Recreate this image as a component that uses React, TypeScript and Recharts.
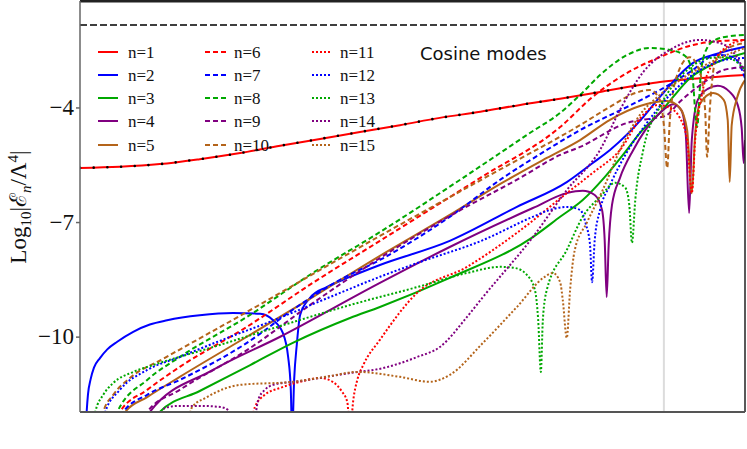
import React from 'react';
import { LineChart, Line, XAxis, YAxis, ReferenceLine } from 'recharts';

type P = [number, number];

// Log10|E_n / Lambda^4| versus the (unlabelled) horizontal variable, 0..10
const n1: P[] = [[0,-5.57],[0.6,-5.54],[1.2,-5.47],[1.8,-5.34],[2.41,-5.18],[3.01,-4.99],[3.61,-4.81],[4.21,-4.63],[4.81,-4.45],[5.41,-4.26],[6.02,-4.1],[6.62,-3.92],[7.22,-3.76],[7.82,-3.58],[8.42,-3.4],[8.72,-3.32],[9.32,-3.22],[10,-3.14]];
const n1Approx: P[] = [[0,-5.57],[0.6,-5.54],[1.2,-5.47],[1.8,-5.34],[2.41,-5.18],[3.01,-4.99],[3.61,-4.81],[4.21,-4.63],[4.81,-4.45],[5.41,-4.26],[6.02,-4.1],[6.62,-3.92],[7.22,-3.76],[7.82,-3.58],[8.42,-3.4],[8.68,-3.33]];
const n2: P[] = [[0.08,-12.6],[0.1,-11.96],[0.12,-11.5],[0.16,-11.1],[0.21,-10.8],[0.3,-10.55],[0.41,-10.32],[0.56,-10.12],[0.8,-9.86],[1.05,-9.67],[1.31,-9.56],[1.8,-9.43],[2.3,-9.37],[2.71,-9.39],[2.9,-9.55],[3.05,-9.89],[3.13,-10.52],[3.17,-11.38],[3.19,-12.6],[3.22,-11.12],[3.26,-10.2],[3.31,-9.42],[3.46,-8.97],[3.71,-8.69],[4.02,-8.45],[4.51,-8.11],[5.56,-7.48],[6.57,-6.59],[7.32,-5.94],[7.71,-5.44],[7.97,-5.1],[8.47,-4.24],[8.72,-3.71],[9.22,-2.82],[9.62,-2.56],[10,-2.4]];
const n3: P[] = [[1.17,-12.5],[1.2,-11.96],[1.8,-11.41],[2.56,-10.73],[3.2,-10.15],[4.06,-9.5],[4.51,-9.21],[5.56,-8.45],[6.81,-7.38],[7.22,-6.85],[7.56,-6.41],[7.89,-5.81],[8.2,-5.15],[8.42,-4.65],[8.72,-4.13],[8.92,-3.71],[9.17,-3.22],[9.43,-2.93],[9.7,-2.72],[10,-2.56]];
const n4: P[] = [[1.02,-12.5],[1.05,-11.96],[2.0,-10.86],[3.01,-9.99],[4.51,-8.58],[5.56,-7.64],[6.81,-6.62],[7.32,-6.23],[7.56,-6.17],[7.74,-6.28],[7.85,-6.67],[7.89,-7.46],[7.92,-8.95],[7.95,-7.59],[8.0,-6.54],[8.12,-5.83],[8.32,-5.1],[8.5,-4.58],[8.72,-4.13],[8.92,-3.9],[9.04,-4.05],[9.11,-4.71],[9.16,-6.75],[9.2,-4.84],[9.29,-3.79],[9.44,-3.5],[9.59,-3.42],[9.77,-3.58],[9.89,-3.92],[9.95,-4.52],[9.98,-5.44],[10,-4.84]];
const n5: P[] = [[0.65,-12.5],[0.68,-11.96],[1.01,-11.57],[1.5,-11.04],[2.51,-9.99],[3.5,-8.95],[4.51,-7.87],[5.56,-6.8],[6.32,-5.99],[7.02,-5.31],[7.52,-4.84],[7.97,-4.31],[8.42,-3.95],[8.83,-3.82],[9.02,-4.0],[9.13,-4.58],[9.2,-6.23],[9.25,-4.71],[9.32,-3.9],[9.52,-3.61],[9.68,-3.79],[9.74,-4.31],[9.77,-5.94],[9.8,-4.45],[9.88,-3.74],[10,-3.27]];
const n6: P[] = [[0.57,-12.5],[0.6,-11.96],[1.01,-11.38],[1.5,-10.78],[2.51,-9.73],[3.5,-8.58],[4.51,-7.48],[6.02,-5.83],[7.22,-4.5],[7.71,-3.71],[8.23,-3.08],[8.72,-2.67],[9.22,-2.35],[9.62,-2.25],[10,-2.22]];
const n7: P[] = [[0.62,-12.5],[0.65,-11.96],[1.01,-11.51],[1.5,-11.12],[2.51,-10.15],[3.26,-9.21],[3.91,-8.5],[4.51,-7.98],[5.56,-6.85],[6.36,-5.83],[7.02,-5.1],[7.52,-4.58],[8.23,-3.97],[8.72,-3.53],[9.17,-3.06],[9.58,-2.61],[9.82,-2.67],[9.92,-2.87],[10,-3.22]];
const n8: P[] = [[0.53,-12.5],[0.56,-11.96],[1.01,-11.12],[1.5,-10.52],[2.51,-9.47],[3.5,-8.32],[4.51,-7.25],[5.76,-5.83],[6.77,-4.65],[7.22,-4.13],[7.52,-3.66],[7.82,-3.14],[8.23,-2.61],[8.57,-2.43],[8.87,-2.48],[9.1,-2.64],[9.2,-3.01],[9.28,-4.5],[9.34,-3.01],[9.43,-2.43],[9.55,-2.22],[9.77,-2.12],[10,-2.09]];
const n9: P[] = [[0.98,-12.5],[1.01,-11.96],[1.5,-11.38],[2.51,-10.34],[3.5,-9.11],[4.51,-7.93],[5.56,-6.83],[6.62,-5.83],[7.22,-5.23],[7.52,-5.02],[8.23,-4.39],[8.65,-4.26],[8.8,-4.21],[9.02,-3.84],[9.43,-3.27],[9.67,-3.01],[10,-2.93]];
const n10: P[] = [[0.32,-12.5],[0.35,-11.96],[0.5,-11.51],[0.75,-11.07],[1.25,-10.57],[2.51,-9.34],[3.5,-8.35],[4.51,-7.35],[6.17,-5.75],[7.52,-4.45],[7.97,-3.97],[8.35,-3.61],[8.57,-3.53],[8.72,-3.79],[8.78,-4.45],[8.83,-5.57],[8.87,-4.31],[8.98,-3.14],[9.17,-2.67],[9.32,-3.06],[9.4,-4.05],[9.43,-5.28],[9.47,-4.05],[9.55,-2.8],[9.7,-2.48],[10,-2.3]];
const n11: P[] = [[2.56,-12.5],[2.63,-11.83],[2.78,-11.51],[3.01,-11.33],[3.31,-11.17],[3.61,-11.07],[3.8,-11.17],[3.94,-11.43],[4.02,-11.7],[4.06,-12.5],[4.11,-11.64],[4.17,-11.12],[4.26,-10.73],[4.51,-10.07],[5.07,-8.84],[5.82,-8.16],[6.57,-7.27],[7.32,-6.23],[7.71,-5.7],[8.12,-5.1],[8.47,-4.18],[8.69,-3.92],[8.87,-4.0],[9.02,-4.26],[9.13,-4.84],[9.2,-6.23],[9.25,-4.84],[9.35,-3.66],[9.55,-2.74],[9.77,-2.35],[10,-2.22]];
const n12: P[] = [[0.35,-12.5],[0.38,-11.96],[0.6,-11.38],[1.01,-10.86],[1.5,-10.52],[2.26,-9.99],[2.81,-9.63],[3.76,-8.95],[4.51,-8.42],[5.07,-8.06],[6.06,-7.46],[6.81,-6.85],[7.07,-6.67],[7.32,-6.59],[7.52,-6.67],[7.61,-7.06],[7.67,-7.59],[7.7,-8.56],[7.74,-7.46],[7.82,-6.67],[7.97,-6.02],[8.2,-5.23],[8.5,-4.45],[8.87,-3.66],[9.32,-3.01],[9.7,-2.74],[10,-2.69]];
const n13: P[] = [[0.2,-12.5],[0.23,-11.96],[0.35,-11.51],[0.5,-11.2],[0.8,-10.91],[1.1,-10.73],[2.0,-10.26],[3.01,-9.71],[4.06,-9.16],[5.07,-8.69],[5.82,-8.32],[6.32,-8.16],[6.54,-8.19],[6.72,-8.37],[6.84,-8.76],[6.89,-9.55],[6.93,-10.91],[6.96,-9.55],[7.02,-8.76],[7.32,-7.72],[7.56,-6.85],[7.82,-6.33],[8.05,-5.96],[8.2,-6.09],[8.26,-6.54],[8.3,-7.53],[8.35,-6.41],[8.47,-5.1],[8.72,-3.97],[8.92,-3.4],[9.17,-2.95],[9.47,-2.69],[9.7,-2.67],[9.88,-2.8],[10,-3.01]];
const n14: P[] = [[1.17,-12.5],[1.28,-11.85],[1.5,-11.8],[1.8,-11.8],[2.11,-11.83],[2.23,-11.91],[2.29,-12.5],[2.59,-12.5],[2.68,-11.64],[2.78,-11.38],[2.9,-11.25],[3.31,-11.15],[4.06,-10.94],[4.56,-10.81],[5.07,-10.52],[5.41,-10.26],[5.82,-9.47],[6.06,-8.95],[6.81,-7.38],[7.32,-6.15],[7.82,-5.1],[8.12,-4.05],[8.47,-3.06],[8.87,-2.48],[9.32,-2.22],[9.62,-2.3],[9.82,-2.53],[9.92,-2.8],[10,-3.08]];
const n15: P[] = [[1.62,-12.5],[1.68,-11.85],[1.91,-11.57],[2.41,-11.25],[3.2,-11.17],[3.76,-11.02],[4.17,-10.91],[4.81,-11.04],[5.26,-11.17],[5.56,-10.99],[6.06,-10.15],[6.57,-9.21],[6.99,-8.42],[7.11,-8.32],[7.22,-8.56],[7.26,-9.03],[7.32,-10.02],[7.37,-8.76],[7.44,-7.72],[7.62,-7.01],[7.86,-6.15],[8.12,-5.1],[8.42,-4.18],[8.72,-3.66],[9.14,-3.14],[9.62,-2.69],[10,-2.43]];

const seriesNames = ['n=1','n=2','n=3','n=4','n=5','n=6','n=7','n=8','n=9','n=10','n=11','n=12','n=13','n=14','n=15'];
const seriesValues: P[][] = [n1,n2,n3,n4,n5,n6,n7,n8,n9,n10,n11,n12,n13,n14,n15];
const yTicks = [-4, -7, -10];
const boundaryX = 8.78;
const upperBound = -1.83;

const COLORS = ['#ff0000', '#0000ff', '#00a800', '#800080', '#b4641a'];
const DASHES: (string | undefined)[] = [undefined, '5 3', '2 2'];

const toRows = (pts: P[]) => pts.map(([x, y]) => ({ x, y }));

const SERIF = 'Liberation Serif, DejaVu Serif, serif';

const YTick = (props: any) => {
  const { x, y, payload } = props;
  return (
    <text x={x} y={y} dy={7} textAnchor="end" fontFamily={SERIF} fontSize={23} fill="#111">
      {`\u2212${Math.abs(payload.value)}`}
    </text>
  );
};

export default function App() {
  const legendRowsY = [52, 75, 98, 121, 145];
  const legendCols = [
    { x1: 98, x2: 118, tx: 128 },
    { x1: 205, x2: 226, tx: 234 },
    { x1: 312, x2: 331, tx: 340 },
  ];
  return (
    <div style={{ position: 'fixed', left: 0, top: 0, width: 747, height: 449, background: '#fff' }}>
      <LineChart width={747} height={449} margin={{ top: 1, right: 2, bottom: 0, left: 0 }}>
        <XAxis
          type="number"
          dataKey="x"
          domain={[0, 10]}
          allowDataOverflow
          tick={false}
          tickLine={false}
          height={37}
          axisLine={{ stroke: '#555', strokeWidth: 2 }}
        />
        <YAxis
          type="number"
          dataKey="y"
          domain={[-11.96, -1.2]}
          allowDataOverflow
          ticks={yTicks}
          width={80}
          tickSize={4}
          tickMargin={2}
          tick={<YTick />}
          axisLine={{ stroke: '#666', strokeWidth: 1.5 }}
          tickLine={{ stroke: '#666', strokeWidth: 1.5 }}
        />
        <ReferenceLine x={boundaryX} stroke="#dcdcdc" strokeWidth={2} />
        <ReferenceLine y={upperBound} stroke="#000" strokeWidth={1.5} strokeDasharray="7 3" />
        {seriesValues.map((pts, i) => (
          <Line
            key={seriesNames[i]}
            data={toRows(pts)}
            dataKey="y"
            type="monotone"
            stroke={COLORS[i % 5]}
            strokeWidth={2}
            strokeDasharray={DASHES[Math.floor(i / 5)]}
            dot={false}
            activeDot={false}
            isAnimationActive={false}
          />
        ))}
        <Line
          data={toRows(n1Approx)}
          dataKey="y"
          type="monotone"
          stroke="#000"
          strokeWidth={2.6}
          strokeLinecap="round"
          strokeDasharray="0 13.7"
          dot={false}
          activeDot={false}
          isAnimationActive={false}
        />
        <ReferenceLine y={-1.2} stroke="#222" strokeWidth={3} />
        <ReferenceLine x={10} stroke="#222" strokeWidth={1.5} />
      </LineChart>
      <svg width={747} height={449} style={{ position: 'absolute', left: 0, top: 0, pointerEvents: 'none' }}>
        {seriesNames.map((name, i) => {
          const col = legendCols[Math.floor(i / 5)];
          const y = legendRowsY[i % 5];
          return (
            <g key={name}>
              <line x1={col.x1} x2={col.x2} y1={y} y2={y} stroke={COLORS[i % 5]} strokeWidth={2} strokeDasharray={DASHES[Math.floor(i / 5)]} />
              <text x={col.tx} y={y + 6} fontFamily={SERIF} fontSize={17} fill="#111">{name}</text>
            </g>
          );
        })}
        <text x={420} y={60} fontFamily="DejaVu Sans, sans-serif" fontSize={18} fill="#111">Cosine modes</text>
        <text transform="translate(26,207) rotate(-90)" textAnchor="middle" fontFamily={SERIF} fontSize={23} fill="#111">
          Log<tspan fontSize={15} dy={5}>10</tspan><tspan dy={-5}>|</tspan><tspan>ℰ</tspan><tspan fontSize={15} fontStyle="italic" dy={5}>n</tspan><tspan dy={-5}>/Λ</tspan><tspan fontSize={15} dy={-8}>4</tspan><tspan dy={8}>|</tspan>
        </text>
      </svg>
    </div>
  );
}
